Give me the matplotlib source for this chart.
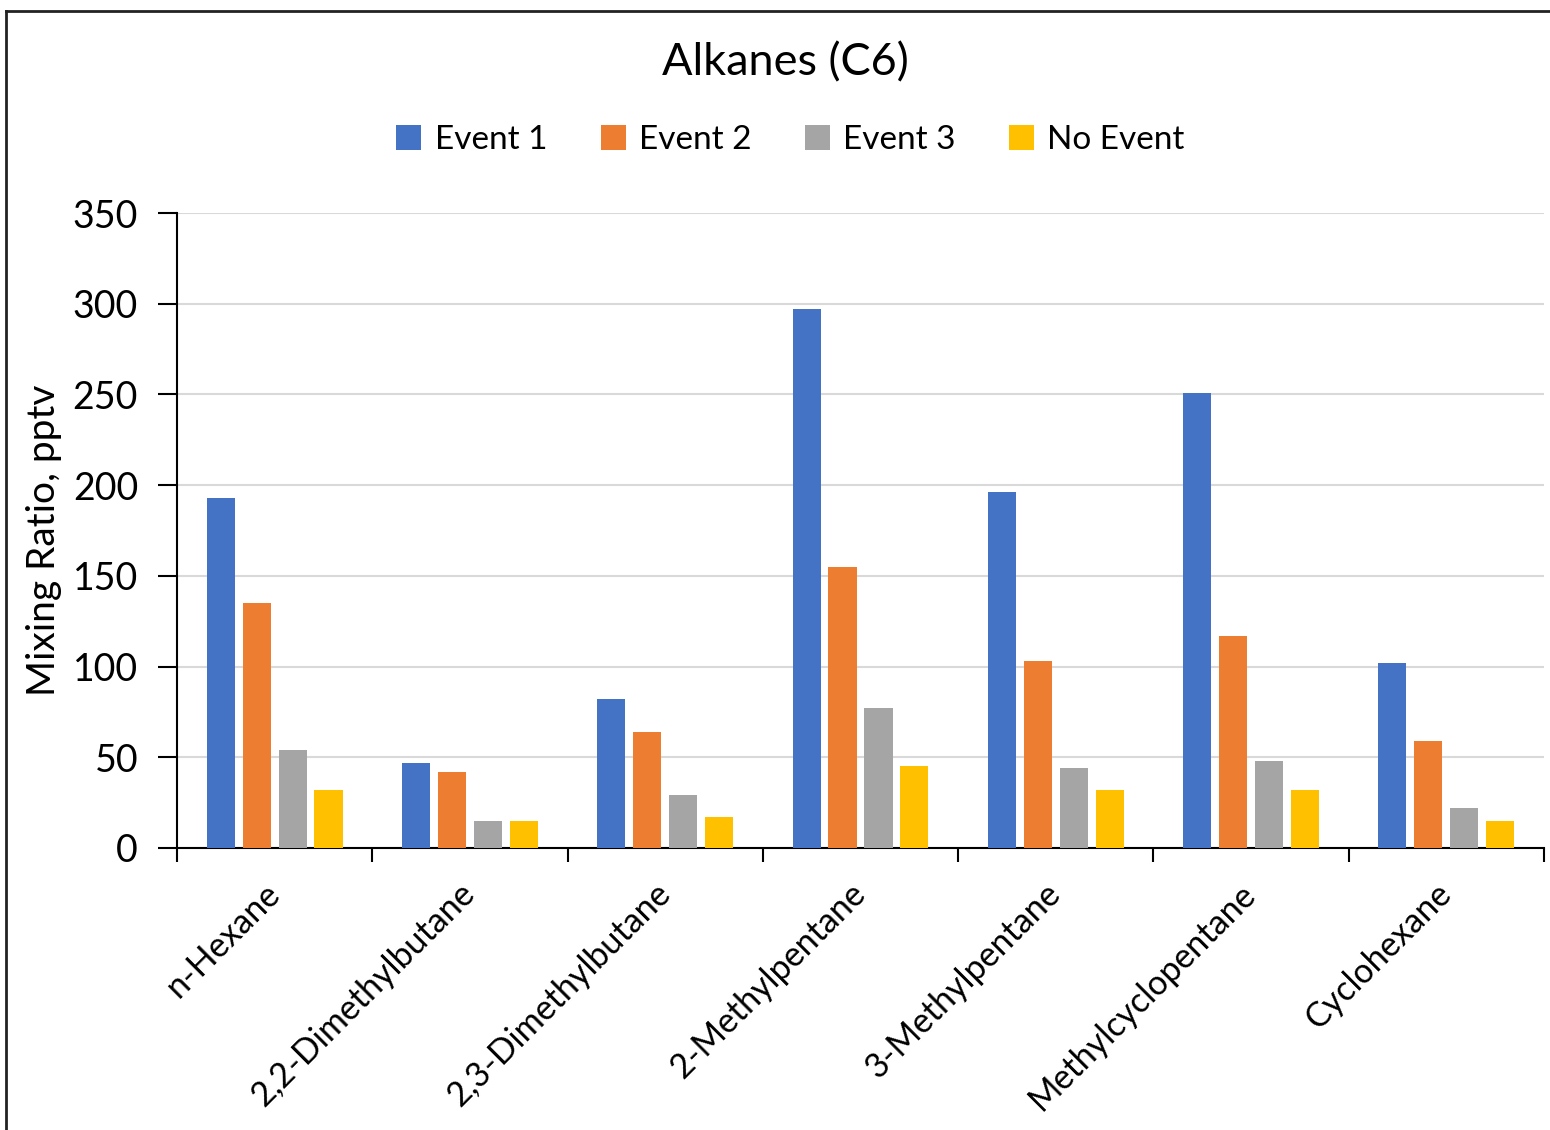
import numpy as np
import matplotlib
matplotlib.use("Agg")
import matplotlib.pyplot as plt
from matplotlib.lines import Line2D

# -----------------------------
# Data (mixing ratios, pptv)
# -----------------------------
compounds = ["n-Hexane", "2,2-Dimethylbutane", "2,3-Dimethylbutane",
             "2-Methylpentane", "3-Methylpentane", "Methylcyclopentane",
             "Cyclohexane"]
series_names = ["Event 1", "Event 2", "Event 3", "No Event"]
event1 = [193, 47, 82, 297, 196, 251, 102]
event2 = [135, 42, 64, 155, 103, 117, 59]
event3 = [54, 15, 29, 77, 44, 48, 22]
no_event = [32, 15, 17, 45, 32, 32, 15]
y_ticks = [0, 50, 100, 150, 200, 250, 300, 350]

colors = ["#4472C4", "#ED7D31", "#A5A5A5", "#FFC000"]

plt.rcParams["font.family"] = ["Lato", "DejaVu Sans"]

# -----------------------------
# Figure
# -----------------------------
fig = plt.figure(figsize=(15.5, 11.3), dpi=100)
ax = fig.add_axes([0.1142, 0.2496, 0.8819, 0.5619])

x = np.arange(len(compounds))
bar_w = 0.144
step = 0.184
for i, (vals, name) in enumerate(zip([event1, event2, event3, no_event], series_names)):
    ax.bar(x + (i - 1.5) * step, vals, width=bar_w, color=colors[i],
           label=name, zorder=3)

ax.set_xlim(-0.5, len(compounds) - 0.5)
ax.set_ylim(0, 350)
ax.set_yticks(y_ticks)
ax.tick_params(axis="y", labelsize=27, length=14, width=1.5, pad=14)
ax.yaxis.grid(True, color="#d9d9d9", linewidth=1.5, zorder=0)

# category ticks sit on the group boundaries, labels at the centres
ax.set_xticks(np.arange(len(compounds) + 1) - 0.5)
ax.set_xticklabels([])
ax.set_xticks(x, minor=True)
ax.set_xticklabels(compounds, minor=True, rotation=45, ha="right", va="center",
                   rotation_mode="anchor", fontsize=24.5)
ax.tick_params(axis="x", which="major", length=10, width=1.5, direction="out")
ax.tick_params(axis="x", which="minor", length=0, pad=29)

for side in ["top", "right"]:
    ax.spines[side].set_visible(False)
for side in ["left", "bottom"]:
    ax.spines[side].set_linewidth(1.5)

ax.set_ylabel("Mixing Ratio, pptv", fontsize=28)
ax.yaxis.set_label_coords(-0.084, 0.485)

fig.text(0.507, 0.944, "Alkanes (C6)", ha="center", va="center", fontsize=32.5)

fig.legend(loc="center", bbox_to_anchor=(0.51, 0.876), ncol=4, frameon=False,
           fontsize=24, handlelength=0.75, handleheight=0.75,
           handletextpad=0.4, columnspacing=1.6)

# chart area border (only the top and left edges fall inside the image)
fig.add_artist(Line2D([6 / 1550, 6 / 1550], [0, 1 - 11 / 1130],
                      transform=fig.transFigure, color="#222222", linewidth=2))
fig.add_artist(Line2D([6 / 1550, 1], [1 - 11 / 1130, 1 - 11 / 1130],
                      transform=fig.transFigure, color="#222222", linewidth=2))

fig.savefig("out.png", dpi=100)
plt.close(fig)
